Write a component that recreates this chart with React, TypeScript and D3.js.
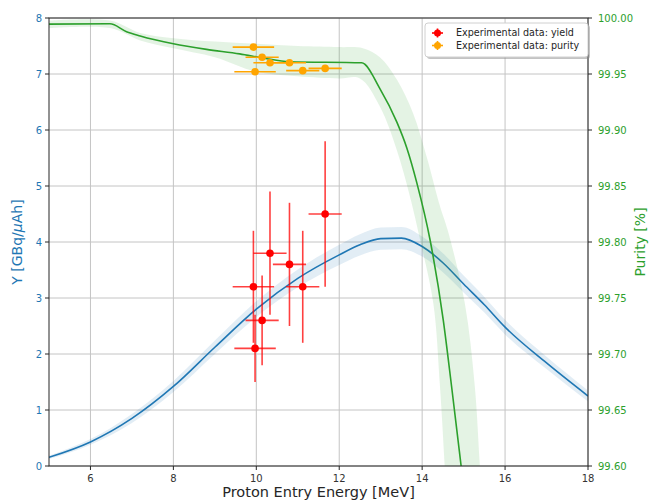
import React from 'react';
import * as d3 from 'd3';

// model curve: yield vs proton energy (left axis)
const modelEnergy = [5, 6, 7, 8, 9, 10, 11, 12, 12.5, 13, 13.5, 14, 14.5, 15, 15.5, 16, 17, 18];
const modelYield = [0.155, 0.43, 0.85, 1.42, 2.12, 2.8, 3.35, 3.77, 3.95, 4.06, 4.07, 3.92, 3.63, 3.25, 2.88, 2.48, 1.84, 1.25];
const modelYieldErr = [0.03, 0.05, 0.08, 0.1, 0.12, 0.14, 0.16, 0.18, 0.19, 0.2, 0.2, 0.18, 0.17, 0.15, 0.14, 0.13, 0.11, 0.1];

// model curve: purity vs proton energy (right axis)
const purityEnergy = [5, 6.47, 6.87, 7.2, 8, 8.8, 9.6, 10.2, 10.8, 12.54, 12.98, 13.39, 13.63, 13.87, 14.19, 14.51, 14.71, 14.94, 15.1];
const purityModel = [99.9945, 99.9948, 99.9878, 99.984, 99.977, 99.972, 99.968, 99.964, 99.961, 99.96, 99.937, 99.907, 99.884, 99.853, 99.802, 99.73, 99.671, 99.6, 99.55];

// purity uncertainty band edges
const purityHiEnergy = [5, 6.47, 7.2, 8, 9, 10, 11, 12, 12.57, 12.98, 13.39, 13.78, 14.11, 14.43, 14.62, 15.03, 15.27, 15.4, 15.5];
const purityHi = [99.9977, 99.9977, 99.9866, 99.982, 99.979, 99.977, 99.975, 99.974, 99.973, 99.965, 99.945, 99.915, 99.876, 99.832, 99.81, 99.745, 99.671, 99.596, 99.55];
const purityLoEnergy = [5, 6.47, 7.2, 8, 9, 10, 11, 12, 12.5, 12.98, 13.39, 13.71, 13.95, 14.27, 14.43, 14.55, 14.62];
const purityLo = [99.991, 99.991, 99.98, 99.973, 99.965, 99.952, 99.948, 99.946, 99.946, 99.921, 99.882, 99.84, 99.802, 99.745, 99.671, 99.596, 99.55];

// experimental points
const expEnergy = [9.93, 9.97, 10.14, 10.33, 10.8, 11.12, 11.66];
const expEnergyErr = [0.5, 0.5, 0.4, 0.4, 0.4, 0.4, 0.4];
const expYield = [3.2, 2.1, 2.6, 3.8, 3.6, 3.2, 4.5];
const expYieldErr = [1.0, 0.6, 0.8, 1.1, 1.1, 1.0, 1.3];
const expPurity = [99.974, 99.952, 99.965, 99.96, 99.96, 99.953, 99.955];

const xTicks = [6, 8, 10, 12, 14, 16, 18];
const yTicks = [0, 1, 2, 3, 4, 5, 6, 7, 8];
const purityTicks = [99.6, 99.65, 99.7, 99.75, 99.8, 99.85, 99.9, 99.95, 100.0];

const blue = '#1f77b4';
const green = '#2ca02c';
const font = 'DejaVu Sans, sans-serif';

export default function App() {
  const width = 651;
  const height = 502;
  const left = 49, right = 588, top = 18, bottom = 466;

  const x = d3.scaleLinear().domain([5, 18]).range([left, right]);
  const y = d3.scaleLinear().domain([0, 8]).range([bottom, top]);
  const p = d3.scaleLinear().domain([99.6, 100]).range([bottom, top]);

  const yieldLine = d3.line<number>()
    .x((_, i) => x(modelEnergy[i]))
    .y(d => y(d))
    .curve(d3.curveMonotoneX);
  const yieldArea = d3.area<number>()
    .x((_, i) => x(modelEnergy[i]))
    .y0((d, i) => y(d - modelYieldErr[i]))
    .y1((d, i) => y(d + modelYieldErr[i]))
    .curve(d3.curveMonotoneX);

  const purityLine = d3.line<number>()
    .x((_, i) => x(purityEnergy[i]))
    .y(d => p(d))
    .curve(d3.curveMonotoneX);

  // band outline: upper edge left->right, lower edge right->left
  const bandPts: [number, number][] = [
    ...purityHi.map((v, i) => [x(purityHiEnergy[i]), p(v)] as [number, number]),
    ...purityLo.map((v, i) => [x(purityLoEnergy[i]), p(v)] as [number, number]).reverse(),
  ];
  const bandPath = d3.line().curve(d3.curveCatmullRom)(bandPts) + 'Z';

  return (
    <svg width={width} height={height} style={{ position: 'absolute', left: 0, top: 0, background: '#fff' }}
      fontFamily={font}>
      <defs>
        <clipPath id="plot">
          <rect x={left} y={top} width={right - left} height={bottom - top} />
        </clipPath>
      </defs>
      <rect width={width} height={height} fill="#fff" />

      {/* grid */}
      {xTicks.map(t => (
        <line key={'gx' + t} x1={x(t)} x2={x(t)} y1={top} y2={bottom} stroke="#c4c4c4" strokeWidth={1} />
      ))}
      {yTicks.map(t => (
        <line key={'gy' + t} x1={left} x2={right} y1={y(t)} y2={y(t)} stroke="#c4c4c4" strokeWidth={1} />
      ))}

      <g clipPath="url(#plot)">
        <path d={yieldArea(modelYield) || ''} fill={blue} fillOpacity={0.13} />
        <path d={yieldLine(modelYield) || ''} fill="none" stroke={blue} strokeWidth={1.6} />

        {expEnergy.map((e, i) => (
          <g key={'ey' + i} stroke="#ff0000" strokeOpacity={0.75} strokeWidth={1.6}>
            <line x1={x(e - expEnergyErr[i])} x2={x(e + expEnergyErr[i])} y1={y(expYield[i])} y2={y(expYield[i])} />
            <line x1={x(e)} x2={x(e)} y1={y(expYield[i] - expYieldErr[i])} y2={y(expYield[i] + expYieldErr[i])} />
          </g>
        ))}
        {expEnergy.map((e, i) => (
          <circle key={'my' + i} cx={x(e)} cy={y(expYield[i])} r={3.8} fill="#ff0000" />
        ))}

        <path d={bandPath} fill={green} fillOpacity={0.13} />
        <path d={purityLine(purityModel) || ''} fill="none" stroke={green} strokeWidth={1.6} />

        {expEnergy.map((e, i) => (
          <line key={'ep' + i} x1={x(e - expEnergyErr[i])} x2={x(e + expEnergyErr[i])}
            y1={p(expPurity[i])} y2={p(expPurity[i])} stroke="orange" strokeWidth={1.6} />
        ))}
        {expEnergy.map((e, i) => (
          <circle key={'mp' + i} cx={x(e)} cy={p(expPurity[i])} r={3.8} fill="orange" />
        ))}
      </g>

      {/* spines */}
      <rect x={left} y={top} width={right - left} height={bottom - top} fill="none" stroke="#262626" strokeWidth={1} />

      {/* bottom axis */}
      {xTicks.map(t => (
        <g key={'xt' + t}>
          <line x1={x(t)} x2={x(t)} y1={bottom} y2={bottom + 4} stroke="#262626" />
          <text x={x(t)} y={481.5} textAnchor="middle" fontSize={10} fill="#333">{t}</text>
        </g>
      ))}
      <text x={(left + right) / 2} y={497} textAnchor="middle" fontSize={14.5} fill="#262626">
        Proton Entry Energy [MeV]
      </text>

      {/* left axis */}
      {yTicks.map(t => (
        <g key={'yt' + t}>
          <line x1={left - 4} x2={left} y1={y(t)} y2={y(t)} stroke="#262626" />
          <text x={42} y={y(t)} dy="0.35em" textAnchor="end" fontSize={10} fill={blue}>{t}</text>
        </g>
      ))}
      <text transform={`translate(22,${(top + bottom) / 2}) rotate(-90)`} textAnchor="middle" fontSize={14} fill={blue}>
        Y [GBq/<tspan fontStyle="italic">μ</tspan>Ah]
      </text>

      {/* right axis */}
      {purityTicks.map(t => (
        <g key={'pt' + t}>
          <line x1={right} x2={right + 4} y1={p(t)} y2={p(t)} stroke="#262626" />
          <text x={598} y={p(t)} dy="0.35em" textAnchor="start" fontSize={10} fill={green}>{t.toFixed(2)}</text>
        </g>
      ))}
      <text transform={`translate(645,${(top + bottom) / 2}) rotate(-90)`} textAnchor="middle" fontSize={14} fill={green}>
        Purity [%]
      </text>

      {/* legend */}
      <g>
        <rect x={427} y={25} width={163} height={34} rx={3} fill="#888" fillOpacity={0.5} />
        <rect x={425} y={23} width={163} height={34} rx={3} fill="#fff" stroke="#d0d0d0" />
        <g stroke="#ff0000" strokeWidth={1.6}>
          <line x1={432} x2={443} y1={33} y2={33} />
          <line x1={437.5} x2={437.5} y1={28.5} y2={37.5} />
        </g>
        <circle cx={437.5} cy={33} r={3.5} fill="#ff0000" />
        <g stroke="orange" strokeWidth={1.6}>
          <line x1={432} x2={443} y1={45.5} y2={45.5} />
          <line x1={437.5} x2={437.5} y1={41} y2={50} />
        </g>
        <circle cx={437.5} cy={45.5} r={3.5} fill="orange" />
        <text x={456} y={33} dy="0.35em" fontSize={9.6} fill="#262626">Experimental data: yield</text>
        <text x={456} y={45.5} dy="0.35em" fontSize={9.6} fill="#262626">Experimental data: purity</text>
      </g>
    </svg>
  );
}
